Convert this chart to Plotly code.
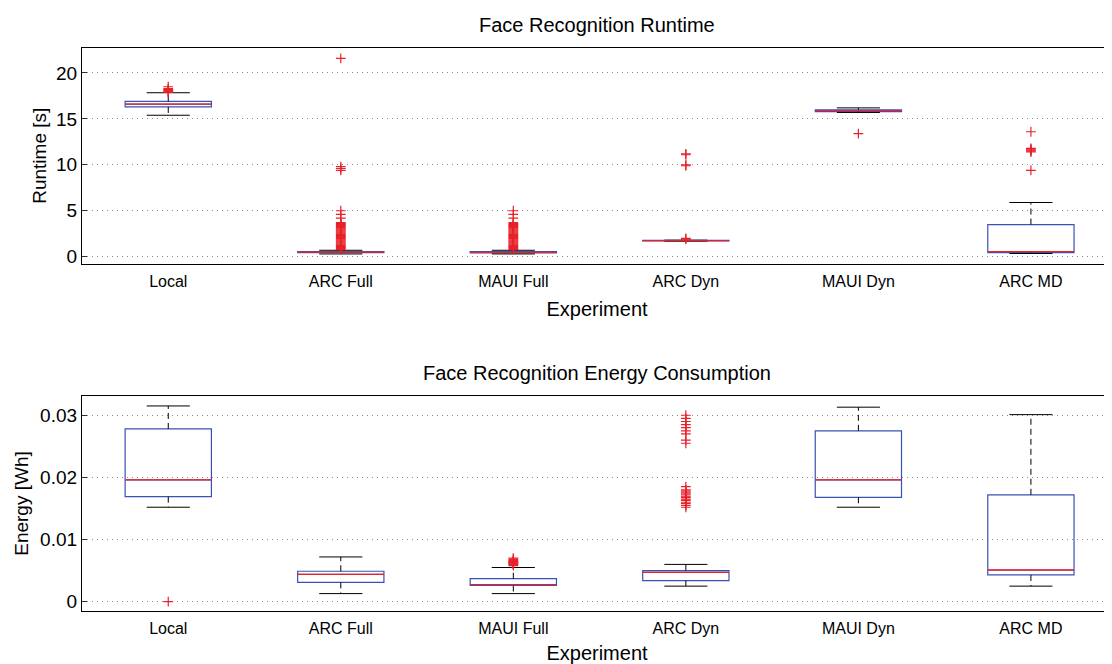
import plotly.graph_objects as go

categories = ["Local", "ARC Full", "MAUI Full", "ARC Dyn", "MAUI Dyn", "ARC MD"]

# Runtime [s] box statistics
rt_lower = [15.4, 0.3, 0.3, 1.7, 15.7, 0.35]
rt_q1 = [16.3, 0.45, 0.42, 1.72, 15.8, 0.45]
rt_median = [16.6, 0.5, 0.48, 1.75, 15.9, 0.55]
rt_q3 = [16.9, 0.55, 0.55, 1.78, 16.0, 3.5]
rt_upper = [17.85, 0.7, 0.7, 1.8, 16.2, 5.9]
rt_outliers = [
    [17.9, 18.0, 18.1, 18.2, 18.3, 18.5],
    [0.8, 0.9, 1.0, 1.1, 1.2, 1.3, 1.4, 1.5, 1.6, 1.7, 1.8, 1.9, 2.0, 2.1, 2.2, 2.3,
     2.4, 2.5, 2.6, 2.7, 2.8, 2.9, 3.0, 3.1, 3.2, 3.3, 3.4, 3.5, 3.6, 3.7, 4.2, 4.6,
     5.0, 9.4, 9.6, 9.8, 21.6],
    [0.8, 0.9, 1.0, 1.1, 1.2, 1.3, 1.4, 1.5, 1.6, 1.7, 1.8, 1.9, 2.0, 2.1, 2.2, 2.3,
     2.4, 2.5, 2.6, 2.7, 2.8, 2.9, 3.0, 3.1, 3.2, 3.3, 3.4, 3.5, 3.6, 3.7, 4.2, 4.6, 5.0],
    [1.9, 2.0, 9.9, 10.0, 11.1, 11.2],
    [13.4],
    [9.4, 11.4, 11.5, 11.6, 11.7, 11.8, 13.6],
]

# Energy [Wh] box statistics
en_lower = [0.0152, 0.0013, 0.0013, 0.0025, 0.0152, 0.0025]
en_q1 = [0.0169, 0.0031, 0.0026, 0.0034, 0.0168, 0.0043]
en_median = [0.0196, 0.0044, 0.0027, 0.0047, 0.0196, 0.0051]
en_q3 = [0.0278, 0.0049, 0.0037, 0.0050, 0.0275, 0.0172]
en_upper = [0.0315, 0.0072, 0.0055, 0.0060, 0.0313, 0.0301]
en_outliers = [
    [0.0],
    [],
    [0.0058, 0.0060, 0.0061, 0.0062, 0.0063, 0.0064, 0.0065, 0.0066, 0.0068, 0.0070],
    [0.0152, 0.0155, 0.0158, 0.0160, 0.0163, 0.0165, 0.0168, 0.0170, 0.0173, 0.0175,
     0.0178, 0.0180, 0.0185, 0.0255, 0.0260, 0.0270, 0.0275, 0.0280, 0.0285, 0.0290,
     0.0295, 0.0300],
    [],
    [],
]

BLUE = "#3a52b4"
RED = "#e8222a"
FONT = "Liberation Sans, Arial, Helvetica, sans-serif"
BOX_W = 0.5
CAP_W = 0.25

fig = go.Figure()


def add_panel(lower, q1, med, q3, upper, outliers, xa, ya):
    pos = list(range(len(categories)))
    fig.add_trace(go.Box(
        x=pos, q1=q1, median=med, q3=q3, lowerfence=q1, upperfence=q3,
        width=BOX_W, whiskerwidth=0, line=dict(color=BLUE, width=1.2),
        fillcolor="rgba(0,0,0,0)", boxpoints=False, xaxis=xa, yaxis=ya,
        showlegend=False, hoverinfo="skip"))
    wx, wy = [], []
    for i in pos:
        wx += [i, i, None, i, i, None]
        wy += [q3[i], upper[i], None, q1[i], lower[i], None]
    fig.add_trace(go.Scatter(x=wx, y=wy, mode="lines",
                             line=dict(color="black", width=1, dash="6px,4px"),
                             xaxis=xa, yaxis=ya, showlegend=False, hoverinfo="skip"))
    cx, cy = [], []
    for i in pos:
        cx += [i - CAP_W / 2, i + CAP_W / 2, None, i - CAP_W / 2, i + CAP_W / 2, None]
        cy += [upper[i], upper[i], None, lower[i], lower[i], None]
    fig.add_trace(go.Scatter(x=cx, y=cy, mode="lines",
                             line=dict(color="black", width=1),
                             xaxis=xa, yaxis=ya, showlegend=False, hoverinfo="skip"))
    mx, my = [], []
    for i in pos:
        mx += [i - BOX_W / 2, i + BOX_W / 2, None]
        my += [med[i], med[i], None]
    fig.add_trace(go.Scatter(x=mx, y=my, mode="lines",
                             line=dict(color=RED, width=1.3),
                             xaxis=xa, yaxis=ya, showlegend=False, hoverinfo="skip"))
    ox, oy = [], []
    for i in pos:
        ox += [i] * len(outliers[i])
        oy += outliers[i]
    fig.add_trace(go.Scatter(x=ox, y=oy, mode="markers",
                             marker=dict(symbol="cross-thin", size=7,
                                         line=dict(color=RED, width=1.2)),
                             xaxis=xa, yaxis=ya, showlegend=False, hoverinfo="skip"))


add_panel(rt_lower, rt_q1, rt_median, rt_q3, rt_upper, rt_outliers, "x", "y")
add_panel(en_lower, en_q1, en_median, en_q3, en_upper, en_outliers, "x2", "y2")

# page body has an 8px margin, so the figure is drawn 8px in from the window edge
W, H = 1104, 656
OFF = 8
x_dom = [(82 - OFF) / W, 1.0]
top_dom = [1 - (263.5 - OFF) / H, 1 - (48 - OFF) / H]
bot_dom = [1 - (611 - OFF) / H, 1 - (396 - OFF) / H]
xmid = (x_dom[0] + x_dom[1]) / 2

xcommon = dict(
    range=[-0.5, 5.47], tickmode="array", tickvals=list(range(len(categories))),
    ticktext=categories, ticks="", showgrid=False, zeroline=False, automargin=False,
    showline=True, linecolor="black", linewidth=1.2, mirror=True,
    tickfont=dict(family=FONT, size=16, color="black"), ticklabelstandoff=3,
    title=dict(text="Experiment", font=dict(family=FONT, size=20, color="black"),
               standoff=13),
)
ycommon = dict(
    ticks="inside", ticklen=5, tickcolor="#333", showline=True, linecolor="black",
    linewidth=1.2, mirror="ticks", zeroline=False, showgrid=True, automargin=False,
    gridcolor="#8a8a8a", griddash="1px,4px", gridwidth=1,
)

fig.update_layout(
    width=W, height=H, margin=dict(l=0, r=0, t=0, b=0, autoexpand=False),
    paper_bgcolor="white", plot_bgcolor="white", showlegend=False,
    xaxis=dict(domain=x_dom, anchor="y", **xcommon),
    xaxis2=dict(domain=x_dom, anchor="y2", **xcommon),
    yaxis=dict(domain=top_dom, anchor="x", range=[-0.74, 22.72],
               tickvals=[0, 5, 10, 15, 20],
               tickfont=dict(family=FONT, size=19, color="black"),
               title=dict(text="Runtime [s]", font=dict(family=FONT, size=19, color="black"),
                          standoff=4),
               **ycommon),
    yaxis2=dict(domain=bot_dom, anchor="x2", range=[-0.0015, 0.0331],
                tickvals=[0, 0.01, 0.02, 0.03], ticktext=["0", "0.01", "0.02", "0.03"],
                tickfont=dict(family=FONT, size=19, color="black"),
                title=dict(text="Energy [Wh]", font=dict(family=FONT, size=19, color="black"),
                           standoff=6),
                **ycommon),
    annotations=[
        dict(text="Face Recognition Runtime", x=xmid, y=1 - (25 - OFF) / H,
             xref="paper", yref="paper", showarrow=False, xanchor="center",
             yanchor="middle", font=dict(family=FONT, size=20, color="black")),
        dict(text="Face Recognition Energy Consumption", x=xmid,
             y=1 - (373 - OFF) / H, xref="paper", yref="paper", showarrow=False,
             xanchor="center", yanchor="middle",
             font=dict(family=FONT, size=20, color="black")),
    ],
)

fig.write_html("out.html")
